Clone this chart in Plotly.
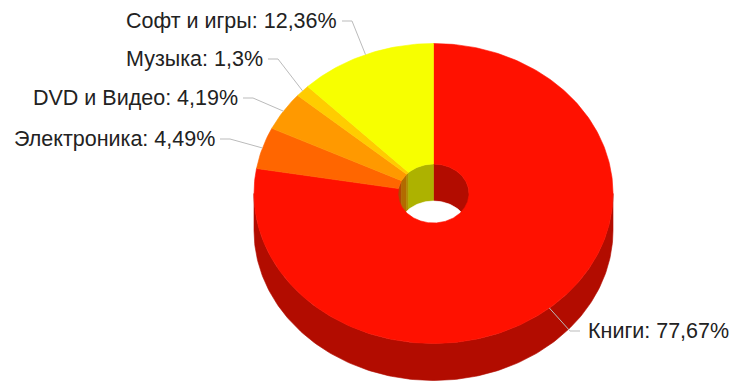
import numpy as np
import plotly.graph_objects as go

# Sales share by product group (percent), clockwise from 12 o'clock
categories = ["Книги", "Электроника", "DVD и Видео", "Музыка", "Софт и игры"]
shares = [77.67, 4.49, 4.19, 1.3, 12.36]
colors = ["#ff1100", "#ff6600", "#ff9900", "#ffcc00", "#f7ff00"]

# Donut geometry in pixel units (y grows downward)
W, H = 733, 382
CX, CY = 433.5, 193.5
RX, RY = 179.5, 150.0
HX, HY = 35.5, 29.5
DEPTH = 37.0
SHADE = 0.7

# Label rows: elbow point of each leader line
label_rows = {
    "Софт и игры": (352, 21),
    "Музыка": (278, 59),
    "DVD и Видео": (253, 98),
    "Электроника": (230, 139),
    "Книги": (570, 331),
}


def darker(hex_color, k=SHADE):
    r, g, b = (int(hex_color[i:i + 2], 16) for i in (1, 3, 5))
    return "rgb({},{},{})".format(round(r * k), round(g * k), round(b * k))


def arc(a, b, rx, ry, dy=0.0, n=None):
    if n is None:
        n = max(8, int(abs(b - a) / (2 * np.pi) * 360))
    t = np.linspace(a, b, n)
    return CX + rx * np.sin(t), CY - ry * np.cos(t) + dy


def clip(a, b, lo, hi):
    s, e = max(a, lo), min(b, hi)
    return (s, e) if e > s else None


def poly(fig, xs, ys, color):
    fig.add_trace(go.Scatter(
        x=np.append(xs, xs[0]), y=np.append(ys, ys[0]),
        mode="lines", fill="toself", fillcolor=color,
        line=dict(color=color, width=0.6),
        hoverinfo="skip", showlegend=False,
    ))


total = sum(shares)
bounds = np.concatenate([[0], np.cumsum(shares)]) / total * 2 * np.pi
slices = list(zip(bounds[:-1], bounds[1:]))

fig = go.Figure()

# Outer side wall (near half only)
for (a, b), c in zip(slices, colors):
    seg = clip(a, b, np.pi / 2, 3 * np.pi / 2)
    if seg:
        x1, y1 = arc(*seg, RX, RY)
        x2, y2 = arc(seg[1], seg[0], RX, RY, DEPTH)
        poly(fig, np.concatenate([x1, x2]), np.concatenate([y1, y2]), darker(c))

# Inner wall of the hole (far half only)
for (a, b), c in zip(slices, colors):
    for lo, hi in ((0, np.pi / 2), (3 * np.pi / 2, 2 * np.pi)):
        seg = clip(a, b, lo, hi)
        if seg:
            x1, y1 = arc(*seg, HX, HY)
            x2, y2 = arc(seg[1], seg[0], HX, HY, DEPTH)
            poly(fig, np.concatenate([x1, x2]), np.concatenate([y1, y2]), darker(c))

# Opening at the bottom of the hole
bx, by = arc(0, 2 * np.pi, HX, HY, DEPTH, 200)
poly(fig, bx, by, "#ffffff")

# Top face ring sectors
for (a, b), c in zip(slices, colors):
    x1, y1 = arc(a, b, RX, RY)
    x2, y2 = arc(b, a, HX, HY)
    poly(fig, np.concatenate([x1, x2]), np.concatenate([y1, y2]), c)

# Leader lines and labels
annotations = []
for (a, b), name, v in zip(slices, categories, shares):
    mid = (a + b) / 2
    ax, ay = CX + RX * np.sin(mid), CY - RY * np.cos(mid)
    ex, ey = label_rows[name]
    right = ex > ax
    tx = ex + 10 if right else ex - 10
    fig.add_trace(go.Scatter(
        x=[ax, ex, tx], y=[ay, ey, ey], mode="lines",
        line=dict(color="#bbbbbb", width=1),
        hoverinfo="skip", showlegend=False,
    ))
    text = "{}: {}%".format(name, "{:g}".format(v).replace(".", ","))
    annotations.append(dict(
        x=tx + (6 if right else -3), y=ey, text=text, showarrow=False,
        xanchor="left" if right else "right", yanchor="middle",
        font=dict(family="Liberation Sans, Arial, sans-serif", size=21.5, color="#222222"),
    ))

fig.update_layout(
    width=W, height=H,
    margin=dict(l=0, r=0, t=0, b=0),
    paper_bgcolor="#ffffff", plot_bgcolor="#ffffff",
    xaxis=dict(range=[0, W], visible=False, fixedrange=True),
    yaxis=dict(range=[H, 0], visible=False, fixedrange=True),
    annotations=annotations,
    showlegend=False,
)

fig.write_html("out.html")
